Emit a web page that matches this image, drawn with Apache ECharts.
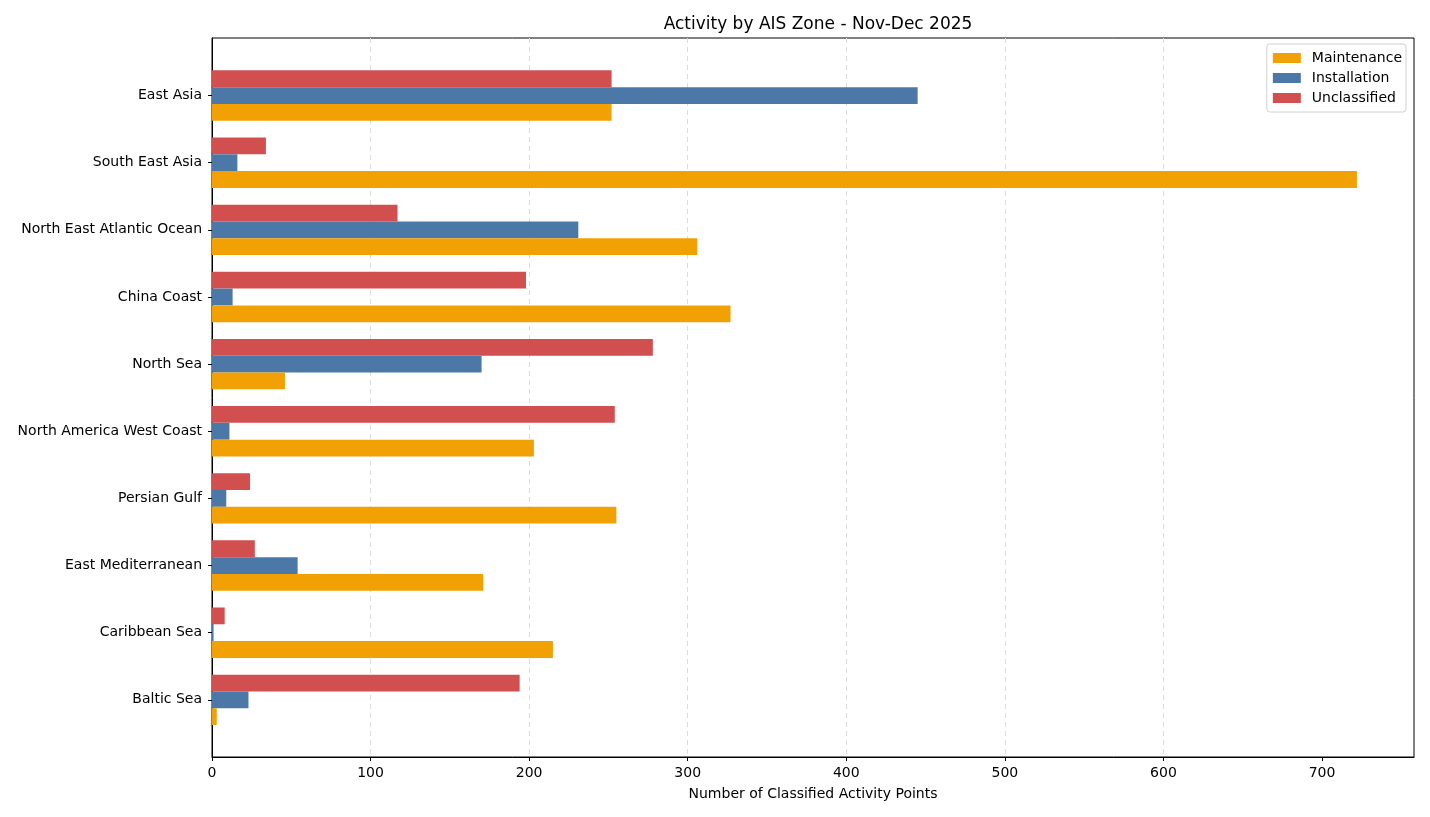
<!DOCTYPE html>
<html><head><meta charset="utf-8">
<script src="https://cdn.jsdelivr.net/npm/echarts@6/dist/echarts.min.js"></script>
<style>html,body{margin:0;padding:0;background:#fff}#c{width:1430px;height:817px}</style>
</head><body><div id="c"></div>
<script>
const categories = ["Baltic Sea","Caribbean Sea","East Mediterranean","Persian Gulf","North America West Coast","North Sea","China Coast","North East Atlantic Ocean","South East Asia","East Asia"];
const maintenance = [3, 215, 171, 255, 203, 46, 327, 306, 722, 252];
const installation = [23, 1, 54, 9, 11, 170, 13, 231, 16, 445];
const unclassified = [194, 8, 27, 24, 254, 278, 198, 117, 34, 252];
const xTicks = [0,100,200,300,400,500,600,700];

const font = 'DejaVu Sans';
const chart = echarts.init(document.getElementById('c'));
const XMAX = 758;
chart.setOption({
  animation:false,
  textStyle:{fontFamily:font},
  title:{text:'Activity by AIS Zone - Nov-Dec 2025',left:813,top:11,textAlign:'center',
    textStyle:{fontFamily:font,fontSize:17,fontWeight:'normal',color:'#000'}},
  legend:{orient:'vertical',right:24,top:44,itemWidth:28,itemHeight:10,itemGap:6,
    data:['Maintenance','Installation','Unclassified'],
    borderColor:'#d0d0d0',borderWidth:1,borderRadius:3,padding:[7,4,7,6],
    textStyle:{fontFamily:font,fontSize:14,color:'#000',padding:[0,0,0,6]},icon:'rect'},
  grid:[
    {left:212,right:16,top:38,bottom:60,show:true,borderColor:'#000',borderWidth:1,backgroundColor:'transparent'},
    {left:212,right:16,top:62,height:671.4}
  ],
  xAxis:[
    {type:'value',gridIndex:0,min:0,max:XMAX,interval:100,
      name:'Number of Classified Activity Points',nameLocation:'middle',nameGap:30,
      nameTextStyle:{fontFamily:font,fontSize:14,color:'#000'},
      axisLine:{show:true,lineStyle:{color:'#000'}},
      axisTick:{show:true,length:4,lineStyle:{color:'#000'},customValues:xTicks},
      axisLabel:{fontFamily:font,fontSize:14,color:'#000',margin:9,customValues:xTicks},
      splitLine:{show:true,showMinLine:false,showMaxLine:false,lineStyle:{color:'#dcdcdc',type:[5,4],width:1}}},
    {type:'value',gridIndex:1,min:0,max:XMAX,show:false,splitLine:{show:false}}
  ],
  yAxis:[
    {type:'value',gridIndex:0,min:0,max:1,show:true,axisLine:{show:true,lineStyle:{color:'#000'}},
      axisTick:{show:false},axisLabel:{show:false},splitLine:{show:false}},
    {type:'category',gridIndex:1,data:categories,
      axisLine:{show:false},
      axisTick:{show:true,alignWithLabel:true,length:4,lineStyle:{color:'#000'},inside:false},
      axisLabel:{fontFamily:font,fontSize:14,color:'#000',margin:10,padding:[5,0,0,0]},
      splitLine:{show:false}}
  ],
  series:[
    {name:'Unclassified',type:'bar',xAxisIndex:1,yAxisIndex:1,data:unclassified,barWidth:16.8,barGap:'0%',itemStyle:{color:'#D14F4F'}},
    {name:'Installation',type:'bar',xAxisIndex:1,yAxisIndex:1,data:installation,barWidth:16.8,barGap:'0%',itemStyle:{color:'#4C78A8'}},
    {name:'Maintenance',type:'bar',xAxisIndex:1,yAxisIndex:1,data:maintenance,barWidth:16.8,barGap:'0%',itemStyle:{color:'#F2A104'}}
  ]
});
</script></body></html>
